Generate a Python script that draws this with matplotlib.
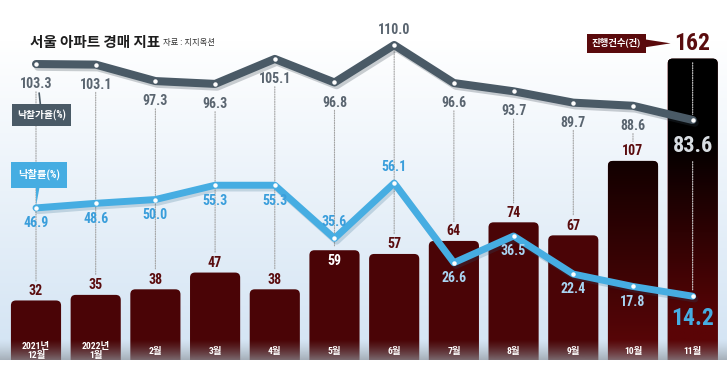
import numpy as np
import matplotlib
matplotlib.use("Agg")
import matplotlib.pyplot as plt
from matplotlib.patches import ConnectionPatch, FancyBboxPatch, Rectangle
import matplotlib.patheffects as pe
from matplotlib.colors import to_rgb

NUMFONT = ['Roboto Condensed', 'Liberation Sans Narrow', 'Arial Narrow', 'Liberation Sans',
           'Noto Sans CJK KR', 'DejaVu Sans']
plt.rcParams['font.family'] = NUMFONT

# ---------------- data ----------------
months = ["2021년\n12월", "2022년\n1월", "2월", "3월", "4월", "5월", "6월",
          "7월", "8월", "9월", "10월", "11월"]
cases = [32, 35, 38, 47, 38, 59, 57, 64, 74, 67, 107, 162]          # 진행건수(건)
sale_ratio = [103.3, 103.1, 97.3, 96.3, 105.1, 96.8, 110.0, 96.6, 93.7, 89.7, 88.6, 83.6]  # 낙찰가율(%)
success_rate = [46.9, 48.6, 50.0, 55.3, 55.3, 35.6, 56.1, 26.6, 36.5, 22.4, 17.8, 14.2]    # 낙찰률(%)

title = "서울 아파트 경매 지표"
source = "자료 : 지지옥션"

# ---------------- styles ----------------
BAR = "#4a0406"
BAR_LABEL = "#5a0c0e"
GRAY_LINE = "#4a5a66"
GRAY_TXT = "#5a6570"
BLUE = "#46ade2"
BLUE_TXT = "#3a9edb"
BLUE_LIGHT = "#a9d5f2"

fig = plt.figure(figsize=(7.27, 3.71), dpi=100)
ax = fig.add_axes([0, 0, 1, 1])
ax1 = ax.twinx()
ax2 = ax.twinx()
for a in (ax, ax1, ax2):
    a.set_axis_off()

x = np.arange(len(months))
XL = (-0.603, 11.575)
ax.set_xlim(*XL)
ax.set_ylim(-5.91, 193.5)
ax1.set_ylim(-4.8, 125.85)
ax2.set_ylim(-13.5, 123.9)

# background gradient (white -> light blue, white below baseline)
n = 371
grad = np.ones((n, 1, 3))
top = np.array([1.0, 1.0, 1.0])
bot = np.array(to_rgb("#d5e5f4"))
for r in range(n):
    if r < 40:
        c = top
    elif r < 340:
        t = (r - 40) / 300
        c = top * (1 - t) + bot * t
    elif r < 360:
        c = bot
    else:
        c = top
    grad[r, 0] = c
ax.imshow(grad, extent=(0, 1, 0, 1), transform=ax.transAxes, aspect='auto', zorder=0)

# bars (drawn from the library's bar geometry, with rounded tops)
w = 0.84
bars = ax.bar(x, cases, width=w, color=BAR, zorder=2)
px_x = 727 / (XL[1] - XL[0])
px_y = 371 / (193.5 + 5.91)
clip = Rectangle((XL[0], 0), XL[1] - XL[0], 300, transform=ax.transData)
rounded = []
for b in bars:
    b.set_visible(False)
    fb = FancyBboxPatch((b.get_x(), -5), b.get_width(), b.get_height() + 5,
                        boxstyle="round,pad=0,rounding_size=%f" % (5 / px_x),
                        mutation_aspect=px_x / px_y, fc=BAR, ec="none", zorder=2)
    ax.add_patch(fb)
    fb.set_clip_path(clip)
    rounded.append(fb)

# gradient fill for last two bars
for i, (topc, botc, k) in zip([10, 11], [("#120000", "#5e0608", 1.0), ("#000000", "#5a0406", 1.6)]):
    gg = np.clip(np.linspace(0, 1, 200) * k - (k - 1) * 0.7, 0, 1)[:, None, None]
    cimg = np.array(to_rgb(topc)) * (1 - gg) + np.array(to_rgb(botc)) * gg
    im = ax.imshow(cimg, extent=(i - w / 2, i + w / 2, 0, cases[i]), aspect='auto', zorder=2.1)
    im.set_clip_path(rounded[i])

# gray ground fade overlay
m = 100
ov = np.zeros((m, 1, 4))
ov[:, 0, :3] = to_rgb("#8f969d")
ov[:, 0, 3] = (np.linspace(0.75, 0, m) ** 1.3)
ax.imshow(ov, extent=(XL[0], XL[1], 0, 11), aspect='auto', zorder=2.5, origin='lower')

# bar value labels
for i, v in enumerate(cases[:-1]):
    if i == 5:   # sits inside the bar (line passes above)
        ax.annotate(f"{v}", (i, v), xytext=(0, -3), textcoords="offset points",
                    ha="center", va="top", fontsize=10, fontweight="bold",
                    color="white", zorder=6)
    else:
        ax.annotate(f"{v}", (i, v), xytext=(0, 2), textcoords="offset points",
                    ha="center", va="bottom", fontsize=10, fontweight="bold",
                    color=BAR_LABEL, zorder=6)
ax.annotate(f"{cases[-1]}", (11, cases[-1]), xytext=(0, 11), textcoords="offset points",
            ha="center", va="center", fontsize=17, fontweight="bold",
            color=BAR_LABEL, zorder=6)
ax.annotate("진행건수(건)", xy=(11, cases[-1]), xytext=(-55, 11), textcoords="offset points",
            ha="center", va="center", fontsize=6.8, fontweight="bold", color="white",
            bbox=dict(boxstyle="square,pad=0.5", fc="#5a0a0c", ec="none"), zorder=6)
ax.annotate("", xy=(10.63, cases[-1] + 8.2), xytext=(10.18, cases[-1] + 8.2),
            arrowprops=dict(arrowstyle="wedge,tail_width=0.6,shrink_factor=0.5",
                            fc="#5a0a0c", ec="none", shrinkA=0, shrinkB=0), zorder=6)

# month labels inside bars
for i, lab in enumerate(months):
    ax.text(i, 4.6, lab, ha="center", va="center", fontsize=6.8, fontweight="bold",
            color="white", zorder=6, linespacing=1.0)

# dotted guide lines
def guide(xyA, axA, xyB, axB, sA, sB, color="#a3a3a3"):
    cp = ConnectionPatch(xyA=xyA, coordsA=axA.transData, xyB=xyB, coordsB=axB.transData,
                         arrowstyle="-", linestyle=(0, (1, 1.2)), lw=0.8, color=color,
                         shrinkA=sA, shrinkB=sB, zorder=1)
    ax1.add_artist(cp)

for i in range(11):
    sA = 3 if i == 6 else 20
    sB = 3 if i == 5 else 14
    guide((i, sale_ratio[i]), ax1, (i, cases[i]), ax, sA, sB)
guide((11, cases[11]), ax, (11, sale_ratio[11]), ax1, 3, 4, color="#cfcfcf")
guide((11, sale_ratio[11]), ax1, (11, success_rate[11]), ax2, 30, 4, color="#cfcfcf")

# line 1: 낙찰가율
ax1.plot(x, sale_ratio, color=GRAY_LINE, lw=5.8, solid_capstyle="round", zorder=3,
         path_effects=[pe.SimpleLineShadow(offset=(1.5, -2), shadow_color="#33414d", alpha=0.25),
                       pe.Normal()])
ax1.plot(x, sale_ratio, ls="none", marker="o", ms=2.2, color="white", zorder=4)
for i, v in enumerate(sale_ratio[:-1]):
    off = 6 if i == 6 else -9.5
    ax1.annotate(f"{v:.1f}", (i, v), xytext=(0, off), textcoords="offset points",
                 ha="center", va="bottom" if off > 0 else "top", fontsize=10,
                 fontweight="bold", color=GRAY_TXT, zorder=6)
ax1.annotate(f"{sale_ratio[-1]:.1f}", (11, sale_ratio[-1]), xytext=(0, -11),
             textcoords="offset points", ha="center", va="top", fontsize=16,
             fontweight="bold", color="#d8dde2", zorder=6)

# line 2: 낙찰률
ax2.plot(x, success_rate, color=BLUE, lw=5.0, solid_capstyle="round", zorder=3,
         path_effects=[pe.SimpleLineShadow(offset=(1.5, -2), shadow_color="#1d5d80", alpha=0.2),
                       pe.Normal()])
ax2.plot(x, success_rate, ls="none", marker="o", ms=2.2, color="white", zorder=4)
for i, v in enumerate(success_rate[:-1]):
    above = i in (5, 6)
    off = 6.5 if above else -6
    col = BLUE_LIGHT if i >= 7 else BLUE_TXT
    ax2.annotate(f"{v:.1f}", (i, v), xytext=(0, off), textcoords="offset points",
                 ha="center", va="bottom" if above else "top", fontsize=10,
                 fontweight="bold", color=col, zorder=6)
ax2.annotate(f"{success_rate[-1]:.1f}", (11, success_rate[-1]), xytext=(0, -7.5),
             textcoords="offset points", ha="center", va="top", fontsize=17,
             fontweight="bold", color=BLUE, zorder=6)

# legend boxes with pointers
ax1.annotate("낙찰가율(%)", xy=(0, sale_ratio[0]), xytext=(4, -37), textcoords="offset points",
             ha="center", va="center", fontsize=7, fontweight="bold", color="white",
             bbox=dict(boxstyle="square,pad=0.55", fc=GRAY_LINE, ec="none"),
             arrowprops=dict(arrowstyle="-", color=GRAY_LINE, lw=1.2, shrinkA=0, shrinkB=21),
             zorder=7)
ax2.annotate("낙찰률(%)", xy=(0, success_rate[0]), xytext=(2, 24), textcoords="offset points",
             ha="center", va="center", fontsize=7.4, fontweight="bold", color="white",
             bbox=dict(boxstyle="square,pad=0.7", fc=BLUE, ec="none"),
             arrowprops=dict(arrowstyle="wedge,tail_width=0.35,shrink_factor=0.5", fc=BLUE,
                             ec="none", shrinkA=0, shrinkB=2),
             zorder=7)

# title
fig.text(30 / 727, 1 - 42 / 371, title, fontsize=10.5, fontweight="heavy", color="#1e1e1e",
         ha="left", va="center", family=['Noto Sans CJK KR'])
fig.text(163 / 727, 1 - 43 / 371, source, fontsize=6, color="#333333",
         ha="left", va="center", family=['Noto Sans CJK KR'])

fig.savefig("out.png", dpi=100)
